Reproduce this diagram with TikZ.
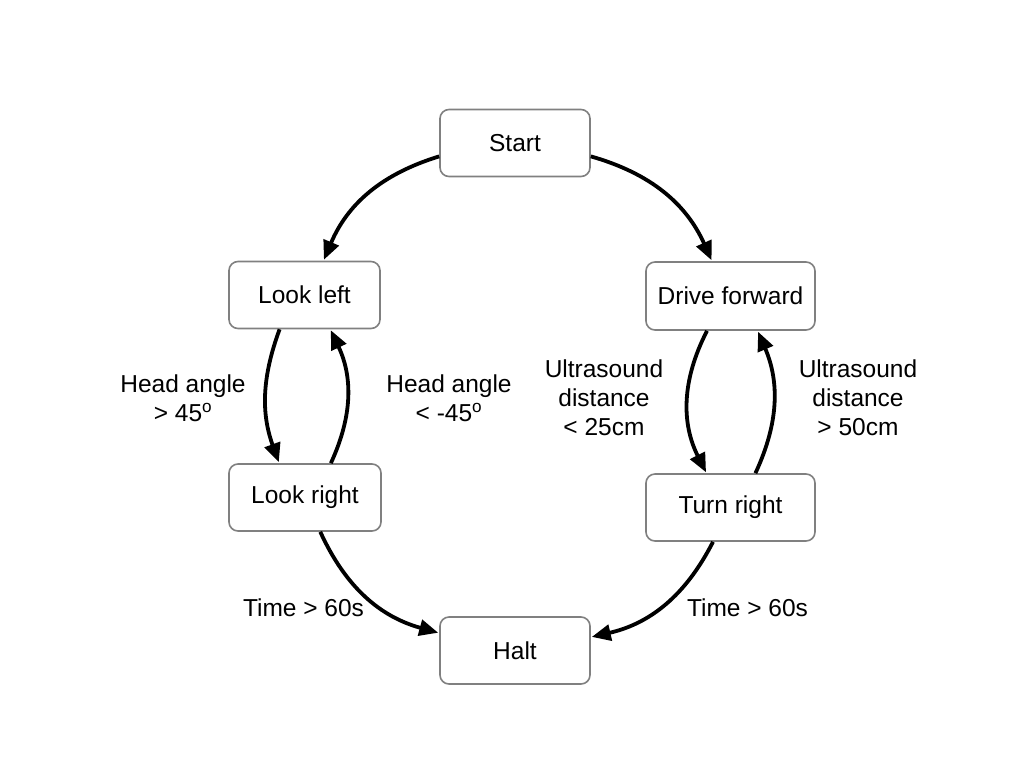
\documentclass[tikz,border=0pt]{standalone}
\usepackage{fontspec}
\setmainfont{Liberation Sans}
\usetikzlibrary{arrows.meta}
\tikzset{
  state/.style={draw=black!50, line width=1.6pt, rounded corners=9pt, fill=white,
    minimum width=150pt, minimum height=67pt, inner sep=0pt,
    font=\fontsize{24.5}{29}\selectfont},
  trans/.style={line width=3.8pt, -{Triangle[length=19pt,width=16pt]}, shorten >=1pt},
  lbl/.style={align=center, font=\fontsize{24.5}{29}\selectfont, inner sep=0pt}
}
\begin{document}
\begin{tikzpicture}[x=1pt,y=1pt]
\useasboundingbox (0,0) rectangle (1028,-772);
\node[state] (start) at (515,-143) {\raisebox{-1.5pt}{Start}};
\node[state, minimum width=151pt] (lookleft) at (304.5,-295) {\raisebox{-1.5pt}{Look left}};
\node[state, minimum width=169pt, minimum height=68pt] (drive) at (730.5,-296) {\raisebox{-1.5pt}{Drive forward}};
\node[state, minimum width=152pt] (lookright) at (305,-497.5) {\raisebox{-1.5pt}{Look right}};
\node[state, minimum width=169pt] (turn) at (730.5,-507.5) {\raisebox{-1.5pt}{Turn right}};
\node[state] (halt) at (515,-650.5) {\raisebox{-1.5pt}{Halt}};

\draw[trans] (start.190) to[bend right=25] (lookleft.61);
\draw[trans] (start.350) to[bend left=25] (drive.118);
\draw[trans] (lookleft.234) to[bend right=20] (lookright.127);
\draw[trans] (lookright.53) to[bend right=25] (lookleft.-53);
\draw[trans] (drive.236) to[bend right=27] (turn.125);
\draw[trans] (turn.54) to[bend right=24] (drive.-52);
\draw[trans] (lookright.-66) to[bend right=25] (halt.167);
\draw[trans] (turn.243) to[bend left=25] (halt.10);

\node[lbl] (l1) at (183,-398) {Head angle\\> 45\textsuperscript{o}};
\node[lbl] (l2) at (449,-398) {Head angle\\< -45\textsuperscript{o}};
\node[lbl] (l3) at (604,-398) {Ultrasound\\distance\\< 25cm};
\node[lbl] (l4) at (858,-398) {Ultrasound\\distance\\> 50cm};
\node[lbl] (l5) at (303.5,-608) {Time > 60s};
\node[lbl] (l6) at (747.5,-608) {Time > 60s};
\end{tikzpicture}
\end{document}
